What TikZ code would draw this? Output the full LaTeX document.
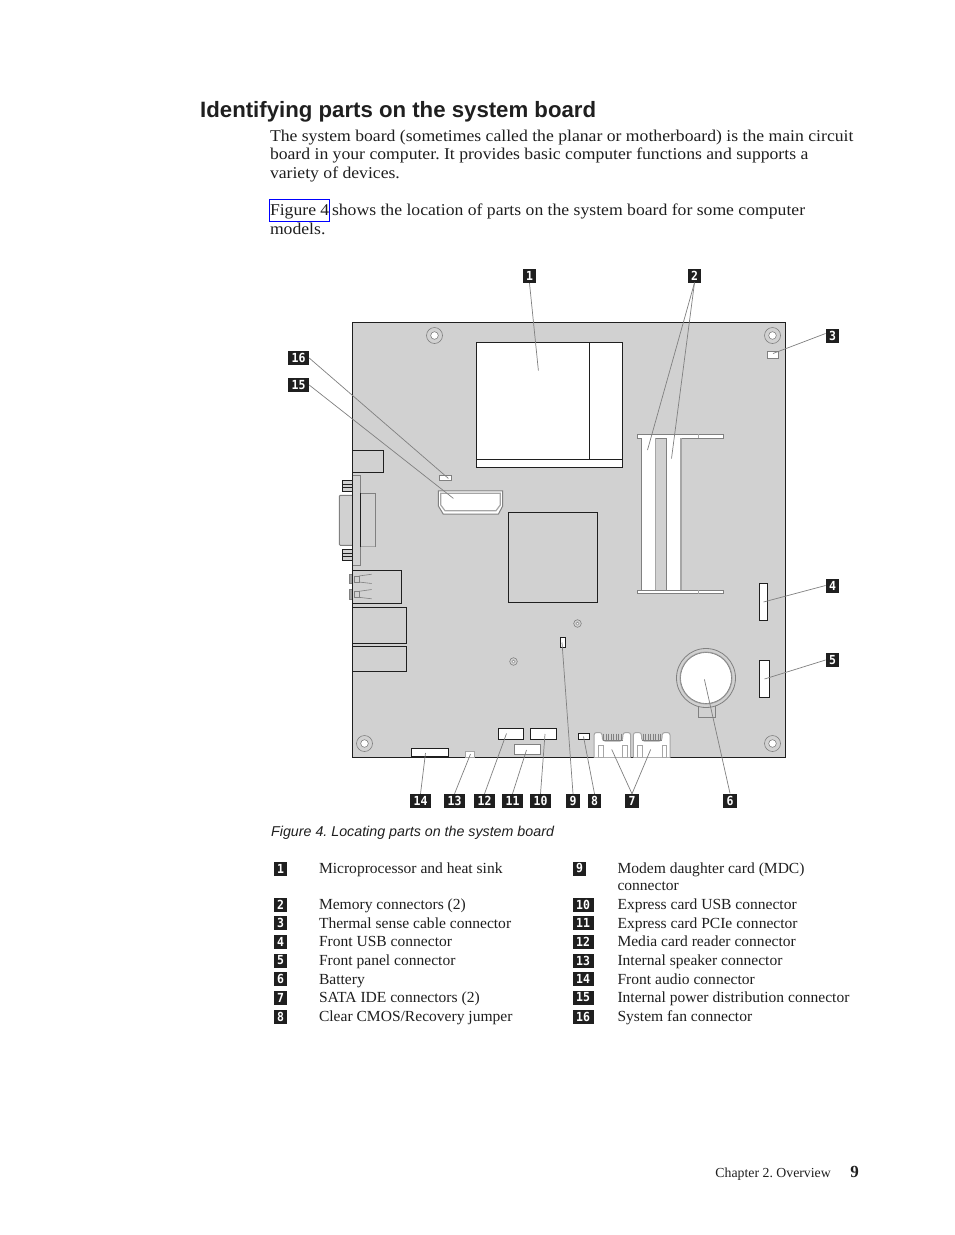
\documentclass[tikz,border=0pt]{standalone}
\usepackage{fontspec}
\setmainfont{Liberation Serif}
\newfontfamily\hfont{Liberation Sans}
\newfontfamily\parafont[FakeStretch=1.07]{Liberation Serif}
\newfontfamily\legfont[FakeStretch=1.01]{Liberation Serif}
\newfontfamily\tagfont[FakeStretch=0.92]{DejaVu Sans Mono}
\definecolor{board}{gray}{0.82}
\definecolor{ink}{gray}{0.12}
\definecolor{soft}{gray}{0.5}
\definecolor{softer}{gray}{0.65}
\definecolor{linkblue}{rgb}{0,0,1}
\tikzset{
 body/.style={anchor=base west,inner sep=0,outer sep=0,font=\parafont\fontsize{16.5}{18.5}\selectfont\frenchspacing,text=ink},
 leg/.style={anchor=base west,inner sep=0,outer sep=0,font=\legfont\fontsize{15.4}{18.5}\selectfont\frenchspacing,text=ink},
 tag/.style={fill=ink,text=white,font=\tagfont\bfseries\fontsize{12.5}{12.5}\selectfont,inner sep=0,minimum height=14pt,minimum width=13.5pt,anchor=center},
 wtag/.style={tag,minimum width=21pt},
 part/.style={draw=ink,line width=1pt,fill=white},
 softpart/.style={draw=soft,line width=1pt,fill=white},
 lead/.style={draw=soft,line width=0.7pt},
 hole/.pic={\draw[soft,line width=.6pt,fill=board] (0,0) circle (8pt);\draw[soft,line width=.6pt,fill=white] (0,0) circle (3.8pt);},
 smallhole/.pic={\draw[soft,line width=.6pt,fill=board] (0,0) circle (3.8pt);\draw[soft,line width=.5pt,fill=white] (0,0) circle (1.6pt);},
}
\begin{document}
\begin{tikzpicture}[x=1pt,y=-1pt]
\useasboundingbox (0,0) rectangle (954,1235);
\fill[white] (0,0) rectangle (954,1235);
% header and paragraphs
\node[anchor=base west,inner sep=0,font=\hfont\bfseries\fontsize{22.2}{24}\selectfont,text=ink] (title) at (200,117.5) {Identifying parts on the system board};
\node[body] (p1) at (270,141) {The system board (sometimes called the planar or motherboard) is the main circuit};
\node[body] (p2) at (270,159.5) {board in your computer. It provides basic computer functions and supports a};
\node[body] (p3) at (270,178) {variety of devices.};
\node[body] (p4) at (270,215) {Figure 4};
\draw[linkblue,line width=1pt] (269.5,199.5) rectangle (329.3,221.5);
\node[body] (p4b) at (332,215) {shows the location of parts on the system board for some computer};
\node[body] (p5) at (270,234) {models.};
% board
\fill[board] (352.5,322.5) rectangle (785.5,757.5);
% rear I/O on left
\draw[softpart,fill=board] (352.5,475.7) rectangle (360.7,565.3);
\draw[softpart,fill=board] (360.7,493.3) rectangle (375.3,546.7);
\draw[softer,line width=1.2pt] (360.7,546.7) -- (375.3,546.7);
\draw[softpart,fill=board,rounded corners=1pt] (352.5,495.3) -- (339.3,495.3) -- (339.3,545.3) -- (352.5,545.3);
\draw[draw=ink,line width=1pt] (360.7,493.3) -- (360.7,546.7);
\foreach \yy in {480.7,549.3}{
 \draw[draw=ink,line width=1pt,fill=board] (342.3,\yy) rectangle (352.5,\yy+10.8);
 \draw[draw=ink,line width=.7pt] (342.3,\yy+3.8) -- (352.5,\yy+3.8) (342.3,\yy+6.8) -- (352.5,\yy+6.8);
}
\draw[part,fill=board] (352.5,450.5) rectangle (383.3,472.3);
\draw[part,fill=board] (352.5,570.3) rectangle (401.3,603.3);
\draw[part,fill=board] (352.5,607.3) rectangle (406.3,643.3);
\draw[part,fill=board] (352.5,646.3) rectangle (406.3,671.3);
\foreach \yy in {579,594.3}{
 \draw[soft,line width=.8pt,fill=softer] (349.3,\yy-4.5) rectangle (352.5,\yy+4.7);
 \draw[soft,line width=.8pt] (354,\yy-3) rectangle (359,\yy+3);
 \draw[soft,line width=.6pt] (359,\yy-3) -- (371.7,\yy-4.8) (359,\yy+3) -- (371.7,\yy+4.5);
}
% board outline
\draw[ink,line width=1pt] (352.5,757.5) -- (352.5,322.5) -- (785.5,322.5) -- (785.5,757.5) -- cycle;
% holes
\path (434.5,335.5) pic {hole} (772.5,335.5) pic {hole} (364.5,743.5) pic {hole} (772.5,743.5) pic {hole};
\path (577.5,623.5) pic {smallhole} (513.5,661.5) pic {smallhole};
% CPU
\draw[part] (476.7,342.4) rectangle (622.3,467);
\draw[ink,line width=1pt] (589.3,342.4) -- (589.3,459.3) (476.7,459.3) -- (622.3,459.3);
% chipset
\draw[part,fill=board] (508.4,512.4) rectangle (597.7,602.5);
% memory
\draw[softpart,line width=.8pt] (637.5,434.4) rectangle (723.3,438.3);
\draw[softpart,line width=.8pt] (637.5,590) rectangle (723.3,593.8);
\draw[softer,line width=.6pt] (698.3,434.4) -- (698.3,438.3) (698.3,590) -- (698.3,593.8);
\fill[white] (641.7,438) rectangle (655,590.4);
\fill[white] (666.7,438) rectangle (681,590.4);
\draw[soft,line width=.8pt] (641.7,438.3) -- (641.7,590);
\draw[softer,line width=1.4pt] (655.7,438.3) -- (655.7,590);
\draw[soft,line width=.8pt] (666.7,438.3) -- (666.7,590);
\draw[softer,line width=1.2pt] (681,438.3) -- (681,590);
% small connectors
\draw[softpart,line width=.8pt] (767,351.5) rectangle (778,358);
\draw[softpart,line width=.8pt] (439.3,475.5) rectangle (451.7,480.7);
\draw[softpart,line width=1pt,fill=white] (438.4,490.8) -- (502.7,490.8) -- (502.7,506) -- (498.3,514.2) -- (443.3,514.2) -- (438.4,506) -- cycle;
\draw[softer,line width=1.2pt] (440.7,493.3) -- (500.3,493.3) -- (500.3,505) -- (496,510.7) -- (445,510.7) -- (440.7,505) -- cycle;
\draw[part] (759.4,583.4) rectangle (767.7,620.6);
\draw[part] (759.4,660.4) rectangle (769.7,697.3);
\draw[part,line width=.9pt] (560,637.5) rectangle (565.5,647.5);
% battery
\draw[soft,line width=.8pt,fill=board] (698.3,705) rectangle (715,717.6);
\draw[soft,line width=.8pt,fill=board] (706,678) circle (29.5);
\draw[softer,line width=1pt,fill=white] (706,678) circle (26);
\draw[soft,line width=.6pt] (706,678) circle (25.5);
% bottom connectors
\draw[part] (498.4,728.4) rectangle (523.7,739.7);
\draw[part] (530.4,728.4) rectangle (556.7,739.7);
\draw[softpart] (514.5,744.4) rectangle (540.7,754.7);
\draw[part] (578.4,733.2) rectangle (589.7,739.7);
\draw[part] (411.2,748.4) rectangle (448.7,756.7);
\draw[softpart,line width=.8pt,draw=softer] (465.4,751.4) rectangle (474.7,757);
% SATA
\foreach \xx in {594,633.3}{
 \begin{scope}[shift={(\xx,0)}]
 \draw[softer,line width=1pt,fill=white,rounded corners=2.5pt] (0,757.5) -- (0,732.5) -- (8,732.5) -- (8.5,741) -- (28.5,741) -- (29,732.5) -- (36.7,732.5) -- (36.7,757.5);
 \foreach \k in {0,...,7}{\draw[soft,line width=.55pt] (9.5+\k*2.5,733.5) -- (9.5+\k*2.5,740.7);}
 \draw[soft,line width=.8pt] (8.5,740.7) -- (28.5,740.7);
 \draw[softer,line width=.7pt] (4.3,745) rectangle (9,757);
 \draw[softer,line width=.7pt] (28.7,745) rectangle (33,757);
 \end{scope}
}
% callout labels
\node[tag] (c1) at (529.5,276) {1};
\node[tag] (c2) at (694.5,275.5) {2};
\node[tag] (c3) at (832.5,335.5) {3};
\node[tag] (c4) at (832.5,585.5) {4};
\node[tag] (c5) at (832.5,660) {5};
\node[tag] (c6) at (730,800.5) {6};
\node[tag] (c7) at (632,801) {7};
\node[tag] (c8) at (594.5,801) {8};
\node[tag] (c9) at (573,801) {9};
\node[wtag] (c10) at (540.5,801) {10};
\node[wtag] (c11) at (512.5,801) {11};
\node[wtag] (c12) at (484.5,801) {12};
\node[wtag] (c13) at (454.5,801) {13};
\node[wtag] (c14) at (420.5,801) {14};
\node[wtag] (c15) at (298.5,385) {15};
\node[wtag] (c16) at (298.5,358) {16};
% leaders
\coordinate (e1) at (538.4,370.7);
\coordinate (e2a) at (647.5,450);
\coordinate (e2b) at (671.5,458.5);
\coordinate (e3) at (773,353.5);
\coordinate (e4) at (763.5,602);
\coordinate (e5) at (764.5,679);
\coordinate (e6) at (704.4,679.4);
\coordinate (e7a) at (611.7,749.4);
\coordinate (e7b) at (650.7,749.4);
\coordinate (e8) at (583.5,736.5);
\coordinate (e9) at (562,642.5);
\coordinate (e10) at (545,734);
\coordinate (e11) at (526.5,750);
\coordinate (e12) at (506.5,733.5);
\coordinate (e13) at (470.5,754);
\coordinate (e14) at (425.5,753);
\coordinate (e15) at (453.4,498.4);
\coordinate (e16) at (448.4,478.4);
\draw[lead] (c1.south) -- (e1);
\draw[lead] (c2.south) -- (e2a);
\draw[lead] (c2.south) -- (e2b);
\draw[lead] ([yshift=2pt]c3.west) -- (e3);
\draw[lead] (c4.west) -- (e4);
\draw[lead] (c5.west) -- (e5);
\draw[lead] (c6.north) -- (e6);
\draw[lead] (c7.north) -- (e7a);
\draw[lead] (c7.north) -- (e7b);
\draw[lead] (c8.north) -- (e8);
\draw[lead] (c9.north) -- (e9);
\draw[lead] (c10.north) -- (e10);
\draw[lead] (c11.north) -- (e11);
\draw[lead] (c12.north) -- (e12);
\draw[lead] (c13.north) -- (e13);
\draw[lead] (c14.north) -- (e14);
\draw[lead] (c15.east) -- (e15);
\draw[lead] (c16.east) -- (e16);
% caption
\node[anchor=base west,inner sep=0,font=\hfont\itshape\fontsize{14.25}{16}\selectfont\frenchspacing,text=ink] (cap) at (271,836) {Figure 4. Locating parts on the system board};
% legend
\foreach \nm/\num/\yy/\txt in {
 a1/1/868.5/{Microprocessor and heat sink},
 a2/2/904.5/{Memory connectors (2)},
 a3/3/923/{Thermal sense cable connector},
 a4/4/941.5/{Front USB connector},
 a5/5/960.5/{Front panel connector},
 a6/6/979/{Battery},
 a7/7/997.5/{SATA IDE connectors (2)},
 a8/8/1016.5/{Clear CMOS/Recovery jumper}}{
 \node[tag] (\nm) at (280.5,\yy) {\num};
 \node[leg] (t\nm) at (319,\yy+5) {\txt};
}
\node[tag] (b9) at (579.5,868.5) {9};
\node[leg] (tb9) at (617.5,873.5) {Modem daughter card (MDC)};
\node[leg] (tb9b) at (617.5,890.5) {connector};
\foreach \nm/\num/\yy/\txt in {
 b10/10/904.5/{Express card USB connector},
 b11/11/923/{Express card PCIe connector},
 b12/12/941.5/{Media card reader connector},
 b13/13/960.5/{Internal speaker connector},
 b14/14/979/{Front audio connector},
 b15/15/997.5/{Internal power distribution connector},
 b16/16/1016.5/{System fan connector}}{
 \node[wtag] (\nm) at (583,\yy) {\num};
 \node[leg] (t\nm) at (617.5,\yy+5) {\txt};
}
% footer
\node[anchor=base east,inner sep=0,font=\fontsize{13.8}{15}\selectfont\frenchspacing,text=ink] (foot) at (831,1177.5) {Chapter 2. Overview};
\node[anchor=base east,inner sep=0,font=\bfseries\fontsize{17}{18}\selectfont,text=ink] (pg) at (859,1177.5) {9};
\end{tikzpicture}
\end{document}
